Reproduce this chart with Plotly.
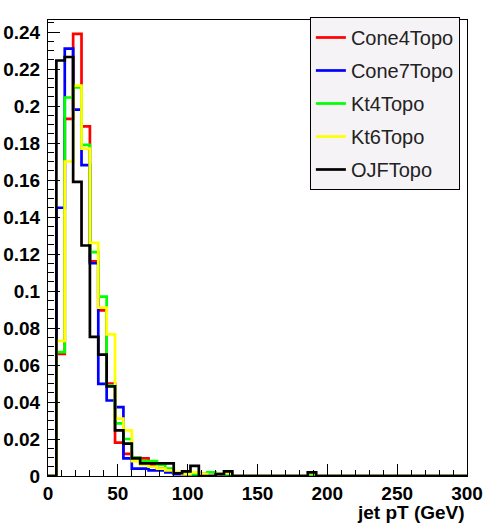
import plotly.graph_objects as go

# 6 GeV bins from 0 to 300 GeV
bin_edges = list(range(0, 301, 6))

cone4_topo = [0.0, 0.066, 0.193, 0.239, 0.189, 0.116, 0.0895, 0.050, 0.018, 0.012,
              0.010, 0.0095, 0.006, 0.004, 0.003, 0.002, 0.001, 0.002, 0.001, 0.0,
              0.001, 0.0, 0.0, 0.0, 0.0, 0.0, 0.0, 0.0, 0.0, 0.0,
              0.0, 0.0, 0.0, 0.0, 0.0, 0.0, 0.0, 0.0, 0.0, 0.0,
              0.0, 0.0, 0.0, 0.0, 0.0, 0.0, 0.0, 0.0, 0.0, 0.0]
cone7_topo = [0.0, 0.145, 0.231, 0.198, 0.168, 0.115, 0.0498, 0.0408, 0.0372, 0.0095,
              0.004, 0.004, 0.003, 0.003, 0.002, 0.001, 0.001, 0.0005, 0.0, 0.0,
              0.0, 0.0, 0.0, 0.0, 0.0, 0.0, 0.0, 0.0, 0.0, 0.0,
              0.0, 0.0, 0.0, 0.0, 0.0, 0.0, 0.0, 0.0, 0.0, 0.0,
              0.0, 0.0, 0.0, 0.0, 0.0, 0.0, 0.0, 0.0, 0.0, 0.0]
kt4_topo = [0.0, 0.067, 0.2046, 0.210, 0.179, 0.121, 0.097, 0.049, 0.0285, 0.020,
            0.010, 0.008, 0.008, 0.006, 0.004, 0.002, 0.002, 0.001, 0.001, 0.002,
            0.001, 0.001, 0.0, 0.0, 0.0, 0.0, 0.0, 0.0, 0.0, 0.0,
            0.0, 0.0, 0.0, 0.0, 0.0, 0.0, 0.0, 0.0, 0.0, 0.0,
            0.0, 0.0, 0.0, 0.0, 0.0, 0.0, 0.0, 0.0, 0.0, 0.0]
kt6_topo = [0.0, 0.073, 0.170, 0.211, 0.177, 0.126, 0.091, 0.0766, 0.031, 0.0247,
            0.008, 0.006, 0.005, 0.004, 0.003, 0.002, 0.001, 0.002, 0.001, 0.0,
            0.001, 0.0015, 0.0, 0.0, 0.0, 0.0, 0.0, 0.0, 0.0, 0.0,
            0.0, 0.0015, 0.0, 0.0, 0.0, 0.0, 0.0, 0.0, 0.0, 0.0,
            0.0, 0.0, 0.0, 0.0, 0.0, 0.0, 0.0, 0.0, 0.0, 0.0]
ojf_topo = [0.0, 0.2246, 0.2265, 0.159, 0.1246, 0.0752, 0.0656, 0.0485, 0.0247, 0.0175,
            0.0095, 0.0068, 0.0068, 0.0068, 0.0068, 0.0015, 0.0025, 0.0055, 0.0, 0.0,
            0.001, 0.0025, 0.0, 0.0, 0.0, 0.0, 0.0, 0.0, 0.0, 0.0,
            0.0, 0.002, 0.0, 0.0, 0.0, 0.0, 0.0, 0.0, 0.0, 0.0,
            0.0, 0.0, 0.0, 0.0, 0.0, 0.0, 0.0, 0.0, 0.0, 0.0]

series_names = ["Cone4Topo", "Cone7Topo", "Kt4Topo", "Kt6Topo", "OJFTopo"]
series_values = [cone4_topo, cone7_topo, kt4_topo, kt6_topo, ojf_topo]
series_colors = ["#ff0000", "#0000ff", "#00ff00", "#ffff00", "#000000"]

FONT = "Liberation Sans, Arial, Helvetica, sans-serif"

fig = go.Figure()
for name, vals, col in zip(series_names, series_values, series_colors):
    fig.add_trace(go.Scatter(
        x=bin_edges,
        y=list(vals) + [vals[-1]],
        mode="lines",
        line=dict(color=col, width=2.7, shape="hv"),
        name=name,
        legendgroup=name,
        hoverinfo="skip",
    ))

fig.update_layout(
    width=485, height=523,
    margin=dict(l=48, r=18, t=20, b=47, autoexpand=False),
    paper_bgcolor="white", plot_bgcolor="white",
    font=dict(family=FONT, size=19, color="black"),
    showlegend=True,
    legend=dict(
        x=0.625, xanchor="left", y=1.0066, yanchor="top",
        bgcolor="#f6f3f6", bordercolor="black", borderwidth=1,
        font=dict(family=FONT, size=20, color="#222222"),
        tracegroupgap=4, itemwidth=30,
        entrywidth=115, entrywidthmode="pixels",
    ),
    xaxis=dict(
        range=[0, 300], tick0=0, dtick=50, automargin=False,
        ticks="inside", ticklen=12, tickwidth=1, tickcolor="black",
        minor=dict(dtick=10, ticks="inside", ticklen=6, tickwidth=1, tickcolor="black"),
        showline=True, linecolor="black", linewidth=1, mirror=True,
        showgrid=False, zeroline=False,
        tickfont=dict(family=FONT, size=19, color="black", weight="bold"),
    ),
    yaxis=dict(
        range=[0, 0.2465], tick0=0, dtick=0.02, automargin=False,
        ticks="inside", ticklen=12, tickwidth=1, tickcolor="black",
        minor=dict(dtick=0.005, ticks="inside", ticklen=6, tickwidth=1, tickcolor="black"),
        showline=True, linecolor="black", linewidth=1, mirror=True,
        showgrid=False, zeroline=False, ticklabelstandoff=3,
        tickfont=dict(family=FONT, size=19, color="black", weight="bold"),
    ),
    annotations=[dict(
        text="jet pT (GeV)", x=1, xref="paper", xanchor="right",
        y=0, yref="paper", yanchor="top", yshift=-24, showarrow=False,
        font=dict(family=FONT, size=19, color="black", weight="bold"),
    )],
)

fig.write_html("out.html")
